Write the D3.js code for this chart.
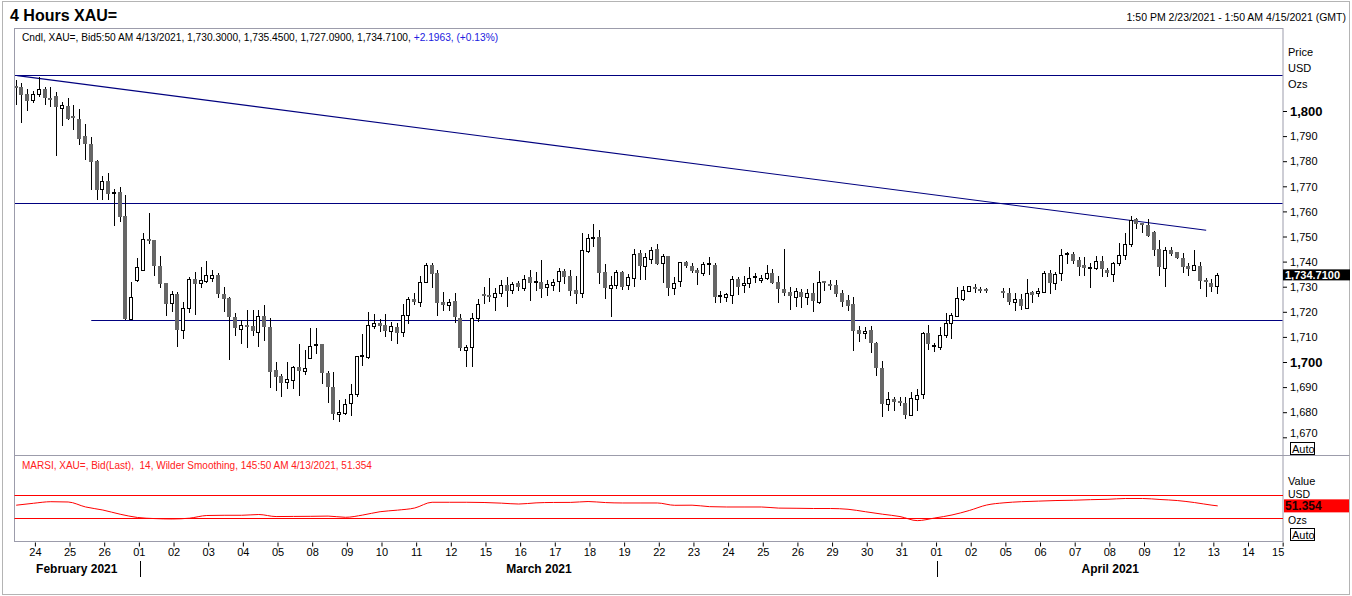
<!DOCTYPE html>
<html>
<head>
<meta charset="utf-8">
<script src="https://cdn.jsdelivr.net/npm/d3@7"></script>
<style>
body{margin:0;background:#fff;}
svg{display:block;font-family:"Liberation Sans",Arial,sans-serif;}
</style>
</head>
<body>
<div id="container"></div>
<script>
// 4h bars from 23 Feb 13:50 to 13 Apr 05:50, one entry per bar slot (null = no bar)
const opens = [
1809.7,1809.7,1806.7,1804.1,1806.6,1808.7,1805.1,1806.0,1801.4,1802.0,
1797.5,1797.0,1790.0,1786.8,1780.2,1768.9,1772.1,1767.3,1767.6,1758.1,
1717.1,1732.4,1736.9,1749.2,1748.6,1738.2,1731.3,1723.3,1727.1,1712.9,
1721.3,1732.9,1731.3,1732.4,1733.6,1734.6,1726.9,1725.3,1718.0,1713.2,
1714.7,1714.3,1712.0,1718.3,1713.8,1696.8,1694.4,1691.8,1693.1,1698.1,
1696.5,1701.5,1706.6,1707.2,1695.8,1690.2,1679.2,1679.8,1683.5,1687.1,
1702.2,1702.1,1714.5,1715.7,1714.9,1712.2,1714.1,1711.8,1718.7,1725.1,
1724.0,1731.7,1738.6,1735.6,1724.0,1722.7,1724.3,1717.4,1704.5,1705.8,
1717.3,1726.8,1726.5,1726.0,1727.4,1730.7,1728.7,1731.6,1729.7,1733.7,
1731.8,1732.0,1729.7,1730.9,1732.3,1736.2,1734.3,1728.7,1727.4,1744.0,
1749.4,1749.9,1736.0,1729.2,1730.9,1736.0,1730.7,1733.6,1743.6,1738.2,
1740.9,1744.9,1739.3,1742.2,1729.2,1732.3,1739.7,1738.2,1736.6,1735.3,
1738.8,1738.6,1726.2,1726.0,1726.7,1732.9,1730.5,1731.3,1733.6,1732.5,
1733.3,1735.6,1732.0,1729.1,1728.0,1726.0,1728.0,1725.8,1727.6,1724.0,
1731.9,1730.8,1730.7,1727.4,1724.7,1723.1,1712.7,1711.4,1712.7,1707.7,
1697.5,1683.3,1685.1,1684.5,1683.8,1678.9,1685.5,1686.9,1711.4,1706.3,
1706.1,1710.8,1715.7,1718.3,1725.2,1728.0,1729.7,1728.9,1728.7,null,
null,1728.4,1727.4,1724.0,1725.0,1721.6,1727.9,1727.4,1728.2,1735.3,
1731.6,1735.3,1742.8,1743.0,1740.6,1738.6,1737.2,1737.3,1740.2,1736.6,
1735.3,1739.3,1742.6,1746.9,1757.0,1754.9,1754.6,1751.7,1744.9,1737.3,
1744.6,1743.7,1741.3,1738.2,1736.6,1738.2,1732.3,1731.3,1730.3
];
const highs = [
1812.3,1811.0,1808.7,1807.9,1813.4,1809.4,1809.4,1807.7,1803.7,1805.0,
1802.4,1800.6,1794.8,1789.5,1780.4,1774.1,1775.1,1768.9,1769.6,1766.5,
1731.7,1741.3,1751.2,1759.2,1748.6,1742.2,1731.3,1728.3,1728.0,1723.8,
1734.0,1735.9,1737.7,1740.2,1736.6,1735.6,1729.7,1726.0,1719.6,1716.7,
1720.7,1720.7,1720.7,1722.7,1717.4,1700.1,1695.2,1700.0,1698.4,1707.2,
1704.8,1713.7,1713.7,1707.2,1696.4,1695.9,1684.9,1685.1,1691.2,1702.4,
1711.0,1719.8,1719.0,1717.1,1719.1,1716.0,1715.7,1723.1,1725.7,1727.3,
1734.3,1739.6,1739.6,1736.6,1727.8,1725.1,1727.4,1719.1,1706.8,1719.4,
1725.0,1729.8,1733.6,1729.3,1732.7,1733.7,1732.0,1732.1,1734.7,1736.6,
1736.0,1740.6,1732.7,1732.9,1737.3,1737.0,1736.6,1734.3,1751.5,1750.9,
1755.0,1752.6,1739.0,1734.3,1736.6,1736.4,1735.0,1744.9,1744.6,1743.3,
1745.9,1746.9,1742.9,1742.2,1734.0,1740.0,1740.4,1739.3,1737.3,1740.0,
1742.0,1739.3,1728.4,1727.6,1734.3,1733.7,1734.3,1737.7,1735.6,1734.7,
1738.6,1736.9,1734.3,1744.9,1729.7,1729.3,1728.9,1729.2,1731.3,1736.4,
1732.4,1732.7,1732.7,1728.7,1726.7,1725.8,1714.3,1714.1,1714.3,1708.1,
1700.4,1687.9,1686.2,1686.2,1685.9,1688.2,1689.1,1712.1,1714.7,1707.7,
1713.8,1719.7,1719.7,1729.7,1730.3,1730.3,1731.1,1729.7,1729.5,null,
null,1729.3,1729.3,1727.6,1727.1,1732.9,1728.4,1729.3,1736.2,1736.6,
1736.0,1744.9,1744.0,1744.0,1741.7,1742.0,1739.3,1742.2,1742.2,1737.3,
1740.0,1747.3,1751.3,1758.2,1757.2,1755.5,1756.8,1752.3,1748.6,1745.9,
1745.7,1744.0,1743.3,1739.3,1744.6,1740.0,1733.3,1732.9,1735.45
];
const lows = [
1802.4,1795.1,1800.1,1803.0,1805.7,1802.4,1801.7,1782.0,1794.0,1796.6,
1792.4,1786.4,1780.4,1768.5,1764.5,1764.5,1764.5,1754.2,1755.9,1716.7,
1716.7,1732.0,1736.6,1747.2,1734.2,1729.5,1718.3,1719.9,1706.1,1709.3,
1719.4,1718.7,1729.3,1731.6,1732.0,1725.3,1720.0,1700.8,1710.5,1707.0,
1705.7,1710.5,1705.8,1708.5,1689.8,1688.6,1686.0,1689.4,1689.1,1686.6,
1694.8,1701.5,1703.1,1691.1,1683.5,1676.9,1676.0,1678.9,1678.6,1685.9,
1698.5,1701.2,1713.0,1712.1,1709.8,1708.5,1707.0,1709.8,1715.1,1722.7,
1722.0,1731.3,1729.6,1718.4,1720.4,1720.3,1715.4,1704.4,1697.9,1698.1,
1716.0,1723.0,1724.0,1720.4,1726.0,1722.0,1727.0,1728.4,1728.4,1724.4,
1728.4,1725.6,1726.4,1728.4,1728.0,1731.1,1726.4,1723.1,1725.4,1743.3,
1745.9,1730.9,1725.2,1718.0,1728.9,1728.7,1728.7,1729.7,1732.7,1732.7,
1738.9,1738.6,1731.6,1726.4,1726.6,1730.0,1737.3,1735.3,1730.7,1734.3,
1734.7,1723.6,1723.4,1724.0,1723.0,1726.7,1727.6,1729.3,1731.6,1731.6,
1732.7,1731.1,1723.6,1726.3,1720.7,1722.0,1721.4,1722.7,1720.0,1723.1,
1728.4,1728.7,1725.8,1722.0,1720.4,1704.5,1708.1,1709.0,1703.7,1694.6,
1678.0,1680.5,1680.6,1682.5,1677.3,1678.5,1680.6,1685.1,1704.8,1704.1,
1704.8,1709.4,1709.0,1717.8,1724.4,1728.0,1727.6,1727.6,1727.6,null,
null,1725.4,1722.7,1720.4,1720.7,1721.0,1723.6,1725.8,1728.1,1727.0,
1728.7,1732.4,1738.9,1739.0,1734.4,1734.4,1729.3,1736.6,1734.0,1734.0,
1732.0,1738.4,1740.6,1745.7,1752.9,1751.5,1749.9,1742.4,1734.4,1730.0,
1742.4,1740.9,1735.6,1734.3,1736.4,1728.9,1726.0,1728.0,1727.09
];
const closes = [
1809.6,1806.3,1804.1,1806.6,1808.7,1805.0,1804.3,1801.4,1802.4,1797.0,
1797.4,1788.8,1786.8,1779.8,1768.5,1772.1,1766.9,1767.4,1757.9,1717.0,
1726.0,1737.7,1749.2,1748.3,1738.2,1731.0,1723.1,1726.9,1712.7,1721.7,
1732.9,1731.0,1732.6,1734.6,1734.6,1726.9,1725.2,1718.0,1713.4,1714.6,
1714.0,1712.4,1718.3,1714.0,1696.1,1694.2,1691.8,1693.1,1698.1,1696.5,
1697.6,1706.4,1706.9,1695.8,1690.2,1679.2,1680.1,1683.3,1687.2,1702.4,
1702.5,1714.7,1715.7,1714.3,1712.5,1714.3,1711.7,1718.7,1725.1,1724.0,
1732.0,1738.6,1735.1,1723.6,1722.7,1723.9,1718.0,1705.7,1705.8,1717.4,
1723.0,1726.5,1726.1,1727.5,1730.7,1728.4,1731.1,1730.0,1733.1,1731.6,
1731.9,1728.9,1730.9,1732.0,1736.2,1734.0,1728.4,1727.1,1744.6,1749.3,
1749.6,1735.6,1729.3,1730.5,1736.0,1730.0,1734.0,1743.0,1738.2,1741.7,
1744.6,1738.9,1742.2,1729.3,1731.3,1739.7,1738.2,1736.4,1735.3,1738.9,
1738.9,1726.0,1726.3,1727.0,1732.9,1730.0,1731.3,1733.3,1733.7,1733.3,
1735.3,1731.3,1729.1,1727.6,1726.3,1728.3,1725.8,1727.4,1724.3,1731.9,
1731.8,1730.7,1727.1,1724.0,1722.3,1712.5,1711.0,1712.3,1707.4,1697.5,
1683.1,1685.1,1684.2,1683.5,1678.9,1685.5,1686.9,1711.4,1707.2,1706.5,
1710.8,1715.4,1718.7,1725.4,1728.7,1730.1,1729.3,1728.4,1728.6,null,
null,1727.4,1724.0,1725.0,1722.3,1727.4,1726.8,1728.3,1735.6,1731.6,
1735.0,1742.6,1742.9,1740.2,1738.0,1737.6,1737.3,1740.2,1736.9,1735.3,
1739.6,1742.6,1747.0,1756.6,1754.8,1754.8,1750.3,1744.6,1737.7,1744.6,
1742.9,1741.3,1737.7,1737.0,1738.6,1732.4,1732.2,1729.7,1734.71
];

// MARSI 14, one reading every 3 bars, plus the last bar
const rsiValues = [
52.5,55.8,58.5,58,49.5,44.2,37,31.4,29.5,28.8,
30.2,34.8,35.2,35.2,36.5,33,33.2,33.4,33.8,31.7,
35.6,41.3,44,47.7,57.5,57.5,57.5,57.1,56,54.5,
56.5,57.2,57.3,58.8,57,56.3,56.3,56.3,52.3,52.5,
50,49.4,49.4,49.4,47.5,47.2,46.8,46.8,45.5,41.3,
37,33,26,30.5,35.7,43.4,52.8,56.6,58.5,59.5,
60.5,61,62,62.6,64,64,62.3,60.5,57,52.5
];
const rsiLast = 51.354;

const dayLabels = ['24','25','26','01','02','03','04','05','08','09','10','11','12',
  '15','16','17','18','19','22','23','24','25','26','29','30','31',
  '01','02','05','06','07','08','09','12','13','14','15'];
const monthNames = ['February 2021','March 2021','April 2021'];
const monthFirstDay = [0, 3, 26];   // index in dayLabels

const priceTicks = [1670,1680,1690,1700,1710,1720,1730,1740,1750,1760,1770,1780,1790,1800];

// drawn lines: horizontal levels and the falling trend line
const levelPrices = [1814.2, 1763.2, 1716.7];
const levelFromBar = [null, null, 13];
const trendBars = [0.2, 206];
const trendPrices = [1814.1, 1752.5];

const lastPrice = 1734.71;

//svg
const W = 1352, H = 596;
const svg = d3.select('#container').append('svg').attr('width', W).attr('height', H);

const left = 13, right = 1283;
const priceTop = 28.5, priceBottom = 455.5, rsiBottom = 541.5;

const x = d3.scaleLinear().domain([-0.55, 219.3]).range([left, right]);
const y = d3.scaleLinear().domain([1800, 1700]).range([111, 362]);
const yR = d3.scaleLinear().domain([30, 70]).range([518.3, 495]);

const bars = opens.map((o, i) => ({i: i, o: o, h: highs[i], l: lows[i], c: closes[i]}))
  .filter(d => d.o !== null);

// outer frame
svg.append('rect').attr('x', 2.5).attr('y', 1.5).attr('width', 1347).attr('height', 593)
  .attr('fill', 'none').attr('stroke', '#b4b4b4');

// headers
svg.append('text').attr('x', 10).attr('y', 21).text('4 Hours XAU=')
  .style('font-size', '16px').style('font-weight', 'bold');
svg.append('text').attr('x', 1346).attr('y', 21).attr('text-anchor', 'end')
  .text('1:50 PM 2/23/2021 - 1:50 AM 4/15/2021 (GMT)').style('font-size', '10.5px');

// panels
const frame = '#9c9cab';
svg.append('rect').attr('x', left + 1.5).attr('y', priceTop).attr('width', right - left - 1.5).attr('height', priceBottom - priceTop)
  .attr('fill', 'none').attr('stroke', frame);
svg.append('rect').attr('x', left + 1.5).attr('y', priceBottom).attr('width', right - left - 1.5).attr('height', rsiBottom - priceBottom)
  .attr('fill', 'none').attr('stroke', frame);
svg.append('line').attr('x1', right).attr('x2', 1349.5).attr('y1', priceBottom).attr('y2', priceBottom).attr('stroke', frame);

const info = svg.append('text').attr('x', 22).attr('y', 41).style('font-size', '10.2px');
info.append('tspan').attr('fill', '#000')
  .text('Cndl, XAU=, Bid5:50 AM 4/13/2021, 1,730.3000, 1,735.4500, 1,727.0900, 1,734.7100, ');
info.append('tspan').attr('fill', '#2020e0').text('+2.1963, (+0.13%)');

svg.append('defs').append('clipPath').attr('id', 'plotclip')
  .append('rect').attr('x', left + 2).attr('y', priceTop + 0.5).attr('width', right - left - 2.5).attr('height', priceBottom - priceTop - 1);

const plot = svg.append('g').attr('clip-path', 'url(#plotclip)');

// levels and trend line
const navy = '#00007f';
plot.selectAll('.level').data(levelPrices).enter().append('line')
  .attr('class', 'level')
  .attr('x1', (d, i) => levelFromBar[i] === null ? left : x(levelFromBar[i]))
  .attr('x2', right)
  .attr('y1', d => Math.round(y(d)) + 0.5)
  .attr('y2', d => Math.round(y(d)) + 0.5)
  .attr('stroke', navy).attr('stroke-width', 1);

plot.append('line')
  .attr('x1', x(trendBars[0])).attr('y1', y(trendPrices[0]))
  .attr('x2', x(trendBars[1])).attr('y2', y(trendPrices[1]))
  .attr('stroke', navy).attr('stroke-width', 1.1);

// candles
const cx = d => Math.floor(x(d.i)) + 0.5;
const candles = plot.append('g').attr('shape-rendering', 'crispEdges');

candles.selectAll('.wick').data(bars).enter().append('line')
  .attr('class', 'wick')
  .attr('x1', cx).attr('x2', cx)
  .attr('y1', d => y(d.h)).attr('y2', d => y(d.l))
  .attr('stroke', '#000');

candles.selectAll('.body').data(bars).enter().append('rect')
  .attr('class', 'body')
  .each(function(d){
    const up = d.c >= d.o;
    const top = y(Math.max(d.o, d.c)), bot = y(Math.min(d.o, d.c));
    const el = d3.select(this);
    if (Math.abs(d.c - d.o) < 0.35) {
      // doji: flat dash
      el.attr('x', cx(d) - 2.5).attr('width', 4).attr('y', top - 1).attr('height', 2)
        .attr('fill', up ? '#000' : '#666');
    } else if (up) {
      el.attr('x', cx(d) - 2).attr('width', 3)
        .attr('y', Math.round(top) + 0.5).attr('height', Math.max(1, Math.round(bot - top)))
        .attr('fill', '#fff').attr('stroke', '#000');
    } else {
      el.attr('x', cx(d) - 2.5).attr('width', 4)
        .attr('y', top).attr('height', Math.max(1.5, bot - top))
        .attr('fill', '#666');
    }
  });

// price axis
const yAxis = svg.append('g').attr('transform', 'translate(' + right + ',0)')
  .call(d3.axisRight(y).tickValues(priceTicks).tickSize(4).tickPadding(3).tickFormat(d3.format(',')));
yAxis.select('.domain').remove();
yAxis.selectAll('line').attr('stroke', '#000');
yAxis.selectAll('text')
  .attr('fill', '#000')
  .attr('dy', d => d === 1670 ? '-0.05em' : '0.34em')
  .style('font-size', d => d % 100 === 0 ? '13px' : '11px')
  .style('font-weight', d => d % 100 === 0 ? 'bold' : 'normal')
  .style('font-family', '"Liberation Sans",Arial,sans-serif');

['Price', 'USD', 'Ozs'].forEach((t, k) => {
  svg.append('text').attr('x', 1288).attr('y', 56 + k * 16).text(t).style('font-size', '11px');
});

// last price flag
svg.append('rect').attr('x', right).attr('y', y(lastPrice) - 5.5).attr('width', 67).attr('height', 11).attr('fill', '#000');
svg.append('text').attr('x', right + 2).attr('y', y(lastPrice) + 4).text(d3.format(',.4f')(lastPrice))
  .attr('fill', '#fff').style('font-size', '11px').style('font-weight', 'bold');

function autoBox(yTop){
  svg.append('rect').attr('x', 1290.5).attr('y', yTop).attr('width', 24).attr('height', 12)
    .attr('fill', '#fff').attr('stroke', '#000');
  svg.append('text').attr('x', 1292).attr('y', yTop + 10).text('Auto').style('font-size', '11px');
}
autoBox(442.5);

// RSI panel
svg.append('text').attr('x', 22).attr('y', 469).attr('fill', '#ff2020').style('font-size', '10px')
  .style('white-space', 'pre')
  .text('MARSI, XAU=, Bid(Last),  14, Wilder Smoothing, 145:50 AM 4/13/2021, 51.354');

[70, 30].forEach(v => {
  svg.append('line').attr('x1', left + 1.5).attr('x2', right)
    .attr('y1', Math.round(yR(v)) + 0.5).attr('y2', Math.round(yR(v)) + 0.5)
    .attr('stroke', '#ff0000');
});

const rsiPts = rsiValues.map((v, j) => [j * 3, v]).concat([[208, rsiLast]]);
svg.append('path')
  .attr('d', d3.line().x(d => x(d[0])).y(d => yR(d[1])).curve(d3.curveMonotoneX)(rsiPts))
  .attr('fill', 'none').attr('stroke', '#ff0000').attr('stroke-width', 1);

// value axis labels kept clear of the red flag
svg.append('text').attr('x', 1288).attr('y', 485).text('Value').style('font-size', '11px');
svg.append('text').attr('x', 1288).attr('y', 498).text('USD').style('font-size', '10.5px');
svg.append('text').attr('x', 1288).attr('y', 524).text('Ozs').style('font-size', '10.5px');
svg.append('rect').attr('x', right + 1).attr('y', yR(rsiLast) - 6.5).attr('width', 65).attr('height', 13).attr('fill', '#ff0000');
svg.append('text').attr('x', right + 2).attr('y', yR(rsiLast) + 4.5).text(rsiLast)
  .attr('fill', '#200000').style('font-size', '12px').style('font-weight', 'bold');
autoBox(528.5);

// date axis
const dayPos = dayLabels.map((d, k) => 3.24 + 6 * k);
const xAxis = svg.append('g').attr('transform', 'translate(0,' + (rsiBottom + 1) + ')')
  .call(d3.axisBottom(x).tickValues(dayPos).tickSize(4).tickPadding(2).tickFormat((d, k) => dayLabels[k]));
xAxis.select('.domain').remove();
xAxis.selectAll('line').attr('stroke', '#000');
xAxis.selectAll('text').attr('fill', '#000').style('font-size', '11px')
  .style('font-family', '"Liberation Sans",Arial,sans-serif');
xAxis.selectAll('.tick').filter((d, k) => k === dayLabels.length - 1)
  .select('text').attr('x', -5);

// months
const sep = monthFirstDay.map(k => k === 0 ? left : Math.round(x(dayPos[k])) + 1.5);
sep.forEach((s, m) => {
  if (m > 0) {
    svg.append('line').attr('x1', s).attr('x2', s).attr('y1', 561).attr('y2', 577).attr('stroke', '#000');
  }
  const end = m < sep.length - 1 ? sep[m + 1] : right;
  svg.append('text').attr('x', (s + end) / 2).attr('y', 573).attr('text-anchor', 'middle')
    .text(monthNames[m]).style('font-size', '12px').style('font-weight', 'bold');
});
</script>
</body>
</html>
